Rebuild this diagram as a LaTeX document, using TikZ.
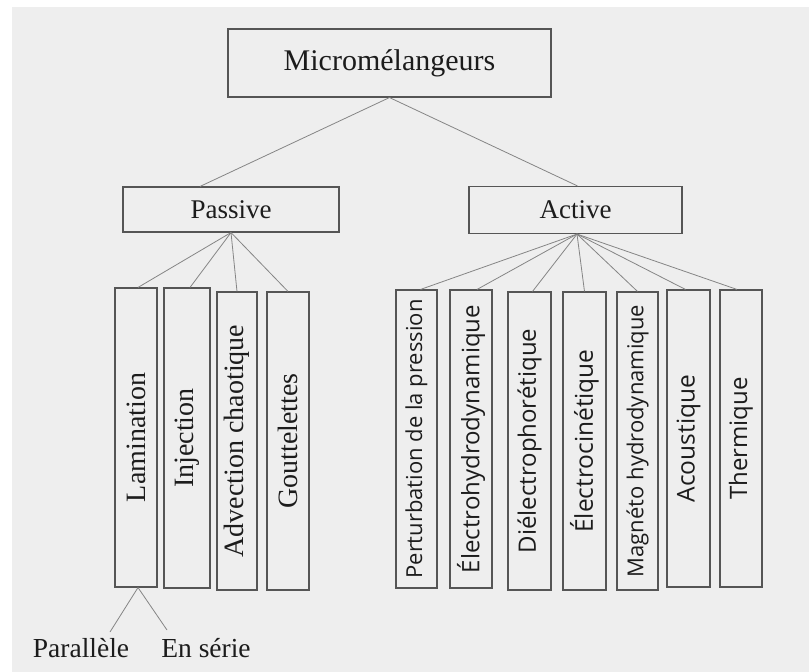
\documentclass[tikz,border=0pt]{standalone}
\usepackage{fontspec}
\setmainfont{Liberation Serif}
\newfontfamily\sansf{Open Sans}
\definecolor{bgcol}{HTML}{EEEEEE}
\definecolor{boxcol}{HTML}{555555}
\definecolor{linecol}{HTML}{858585}
\definecolor{txtcol}{HTML}{1C1C1C}
\newcommand{\sfsz}[1]{\sansf\fontsize{#1}{26}\selectfont}
\tikzset{
  box/.style={draw=boxcol, line width=1.1pt, inner sep=0pt, text=txtcol},
  vbox/.style={box, font=\fontsize{28}{30}\selectfont},
  sbox/.style={box, font=\sfsz{22}},
  conn/.style={draw=linecol, line width=0.8pt},
  lbl/.style={inner sep=0pt, text=txtcol, font=\fontsize{27.5}{30}\selectfont}
}
\begin{document}
\begin{tikzpicture}[x=1pt,y=-1pt]
\useasboundingbox (0,0) rectangle (809,672);
\fill[white] (0,0) rectangle (809,672);
\fill[bgcol] (12,7) rectangle (809,672);

% top level
\node[box, minimum width=323pt, minimum height=68pt, font=\fontsize{30}{34}\selectfont] (top) at (389.5,63) {Micromélangeurs};
\node[box, minimum width=216pt, minimum height=45pt, font=\fontsize{27}{30}\selectfont] (passive) at (231,209.5) {Passive};
\node[box, minimum width=213pt, minimum height=47pt, font=\fontsize{27}{30}\selectfont] (active) at (575.5,210) {Active};

% passive children
\node[vbox, minimum width=42pt, minimum height=299pt] (lam) at (136,437.5) {\rotatebox{90}{Lamination}};
\node[vbox, minimum width=46pt, minimum height=300pt] (inj) at (187,438) {\rotatebox{90}{Injection}};
\node[vbox, minimum width=40pt, minimum height=298pt] (adv) at (237,441) {\rotatebox{90}{Advection chaotique}};
\node[vbox, minimum width=42pt, minimum height=298pt] (gou) at (288,441) {\rotatebox{90}{Gouttelettes}};

% active children
\node[sbox, minimum width=41pt, minimum height=298pt, font=\sfsz{22}] (a1) at (416.5,439) {\rotatebox{90}{Perturbation de la pression}};
\node[sbox, minimum width=42pt, minimum height=298pt, font=\sfsz{24}] (a2) at (471,439) {\rotatebox{90}{Électrohydrodynamique}};
\node[sbox, minimum width=43pt, minimum height=298pt, font=\sfsz{24}] (a3) at (529.5,441) {\rotatebox{90}{Diélectrophorétique}};
\node[sbox, minimum width=43pt, minimum height=298pt, font=\sfsz{24.5}] (a4) at (584.5,441) {\rotatebox{90}{Électrocinétique}};
\node[sbox, minimum width=41pt, minimum height=298pt, font=\sfsz{22}] (a5) at (637.5,441) {\rotatebox{90}{Magnéto hydrodynamique}};
\node[sbox, minimum width=43pt, minimum height=297pt, font=\sfsz{24.5}] (a6) at (688.5,438.5) {\rotatebox{90}{Acoustique}};
\node[sbox, minimum width=42pt, minimum height=297pt, font=\sfsz{24}] (a7) at (741,438.5) {\rotatebox{90}{Thermique}};

% lamination sub-labels
\node[lbl] (par) at (81,648) {Parallèle};
\node[lbl] (ser) at (206,648) {En série};
\coordinate (parend) at (110,632);
\coordinate (serend) at (167,630);

% connectors
\draw[conn] (top.south) -- ([xshift=-31pt]passive.north);
\draw[conn] (top.south) -- ([xshift=2pt]active.north);

\draw[conn] (passive.south) -- ([xshift=2pt]lam.north);
\draw[conn] (passive.south) -- ([xshift=3pt]inj.north);
\draw[conn] (passive.south) -- (adv.north);
\draw[conn] (passive.south) -- (gou.north);

\draw[conn] ([xshift=1.5pt]active.south) -- ([xshift=4pt]a1.north);
\draw[conn] ([xshift=1.5pt]active.south) -- ([xshift=6pt]a2.north);
\draw[conn] ([xshift=1.5pt]active.south) -- ([xshift=3pt]a3.north);
\draw[conn] ([xshift=1.5pt]active.south) -- (a4.north);
\draw[conn] ([xshift=1.5pt]active.south) -- (a5.north);
\draw[conn] ([xshift=1.5pt]active.south) -- ([xshift=-3pt]a6.north);
\draw[conn] ([xshift=1.5pt]active.south) -- ([xshift=-4pt]a7.north);

\draw[conn] ([xshift=2pt]lam.south) -- (parend);
\draw[conn] ([xshift=2pt]lam.south) -- (serend);
\end{tikzpicture}
\end{document}
